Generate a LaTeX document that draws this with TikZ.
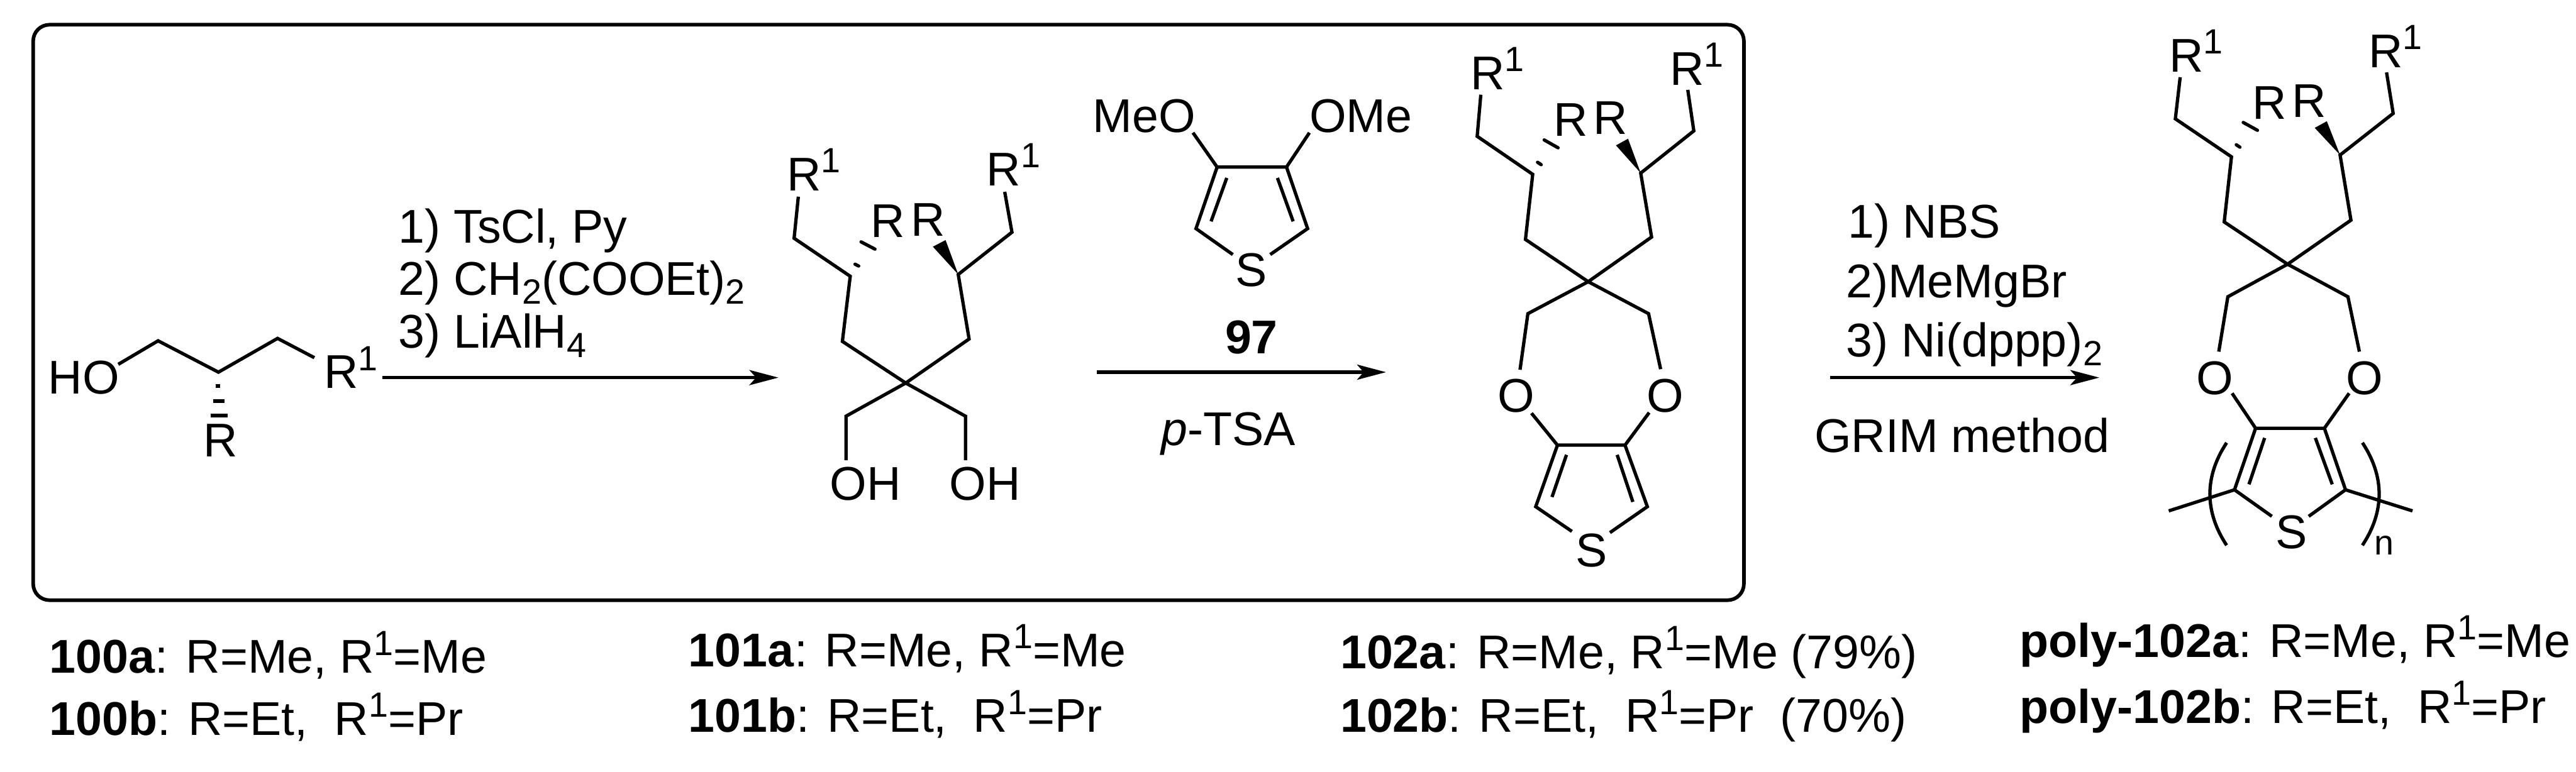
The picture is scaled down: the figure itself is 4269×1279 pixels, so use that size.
\documentclass[tikz,border=0pt]{standalone}
\usepackage{fontspec}
\setmainfont{Liberation Sans}
\usetikzlibrary{arrows.meta}
\newcommand{\Sup}[1]{\raisebox{30pt}{\fontsize{58}{60}\selectfont #1}}
\newcommand{\Sub}[1]{\raisebox{-15pt}{\fontsize{58}{60}\selectfont #1}}
\tikzset{
  txt/.style={inner sep=0pt,anchor=base west,font=\fontsize{78.5}{90}\selectfont},
  atom/.style={inner sep=0pt,anchor=base,font=\fontsize{78.5}{90}\selectfont},
  bond/.style={line width=5.5pt,line join=miter,line cap=butt},
  hash/.style={line width=5.5pt,line cap=round},
  wedge/.style={fill=black,draw=none},
  rxn/.style={line width=5.5pt,-{Stealth[length=48pt,width=25pt,inset=11pt]}},
  frame/.style={draw,line width=6pt,rounded corners=27pt}
}
\newcommand{\Pts}[1]{\foreach \n/\px/\py in {#1} {\coordinate (\n) at (\px,\py);}}
\begin{document}
\begin{tikzpicture}[x=1pt,y=-1pt]
\useasboundingbox (0,0) rectangle (4269,1279);
\fill[white] (0,0) rectangle (4269,1279);
% frame
\coordinate (fa) at (55,41);
\coordinate (fb) at (2890,995);
\draw[frame] (fa) rectangle (fb);

% ---------- 100
\Pts{a1/196/604,a2/262/565,a3/362/617,a4/460/561,a5/521/593}
\draw[bond] (a1)--(a2)--(a3)--(a4)--(a5);
\Pts{ah1l/358/640,ah1r/365/640,ah2l/353/665,ah2r/372/665,ah3l/349/689,ah3r/377/689}
\draw[line width=5.5pt] (ah1l)--(ah1r) (ah2l)--(ah2r) (ah3l)--(ah3r);
\node[txt] (hoa) at (80,653) {HO};
\node[atom] (ra) at (366,757) {R};
\node[txt] (roa) at (537,644) {R\Sup{1}};

% arrow 1
\coordinate (s1) at (634,626);
\coordinate (e1) at (1290,626);
\draw[rxn] (s1)--(e1);
\node[txt] (c1a) at (660,403) {1) TsCl, Py};
\node[txt] (c1b) at (660,489) {2) CH\Sub{2}(COOEt)\Sub{2}};
\node[txt] (c1c) at (660,577) {3) LiAlH\Sub{4}};

% ---------- 101
\Pts{b0/1501/635,bl1/1323/326,bl2/1316/395,bl3/1409/458,bl4/1396/566,br1/1665/318,br2/1677/385,br3/1588/455,br4/1606/562,bc1/1402/690,bo1/1402/763,bc2/1600/690,bo2/1600/763}
\draw[bond] (bl1)--(bl2)--(bl3)--(bl4)--(b0)--(br4)--(br3)--(br2)--(br1);
\draw[bond] (b0)--(bc1)--(bo1) (b0)--(bc2)--(bo2);
\Pts{bw1/1546/409,bw2/1567/398,bd1/1417/438,bd2/1423/441,bd3/1427/401,bd4/1450/413}
\fill[wedge] (br3)--(bw1)--(bw2)--cycle;
\draw[hash] (bd1)--(bd2) (bd3)--(bd4);
\node[txt] (rb1) at (1304,316) {R\Sup{1}};
\node[txt] (rb2) at (1635,308) {R\Sup{1}};
\node[txt] (rb3) at (1443,393) {R};
\node[txt] (rb4) at (1509,391) {R};
\node[txt] (ohb1) at (1375,829) {OH};
\node[txt] (ohb2) at (1573,829) {OH};

% ---------- 97
\Pts{ta/2017/277,tb/2132/277,tc/1982/379,td/2043/422,te/2105/422,tf/2167/379,tg/1977/220,th/2170/220,ti/2033/295,tj/2007/367,tk/2117/295,tl/2143/367}
\draw[bond] (tg)--(ta)--(tb)--(th);
\draw[bond] (te)--(tf)--(tb) (ta)--(tc)--(td);
\draw[bond] (ti)--(tj) (tk)--(tl);
\node[txt] (meo) at (1811,219) {MeO};
\node[txt] (ome) at (2170,219) {OMe};
\node[atom] (st) at (2074,475) {S};
\node[atom,font=\fontsize{78.5}{90}\selectfont\bfseries] (n97) at (2074,586) {97};

% arrow 2
\coordinate (s2) at (1818,617);
\coordinate (e2) at (2297,617);
\draw[rxn] (s2)--(e2);
\node[txt] (ptsa) at (1924,738) {\textit{p}-TSA};

% ---------- 102
\Pts{c0/2632/467,cl1/2454/157,cl2/2448/226,cl3/2540/289,cl4/2528/397,cr1/2797/149,cr2/2807/217,cr3/2719/287,cr4/2737/393,cm1/2532/520,cm2/2519/613,cm3/2732/520,cm4/2752/612,cn1/2538/685,cn2/2581/738,cn3/2693/738,cn4/2733/684,cs1/2545/840,cs2/2605/881,cs3/2668/883,cs4/2730/840,ci1/2596/754,ci2/2572/824,ci3/2680/754,ci4/2706/832}
\draw[bond] (cl1)--(cl2)--(cl3)--(cl4)--(c0)--(cr4)--(cr3)--(cr2)--(cr1);
\draw[bond] (c0)--(cm1)--(cm2) (c0)--(cm3)--(cm4);
\draw[bond] (cn1)--(cn2)--(cn3)--(cn4);
\draw[bond] (cs2)--(cs1)--(cn2) (cs3)--(cs4)--(cn3);
\draw[bond] (ci1)--(ci2) (ci3)--(ci4);
\Pts{cw1/2678/241,cw2/2698/230,cd1/2548/269,cd2/2554/273,cd3/2559/232,cd4/2582/245}
\fill[wedge] (cr3)--(cw1)--(cw2)--cycle;
\draw[hash] (cd1)--(cd2) (cd3)--(cd4);
\node[txt] (rc1) at (2437,148) {R\Sup{1}};
\node[txt] (rc2) at (2767,141) {R\Sup{1}};
\node[txt] (rc3) at (2575,226) {R};
\node[txt] (rc4) at (2640,223) {R};
\node[atom] (oc1) at (2513,683) {O};
\node[atom] (oc2) at (2760,683) {O};
\node[atom] (sc) at (2637,940) {S};

% arrow 3
\coordinate (s3) at (3033,626);
\coordinate (e3) at (3479,626);
\draw[rxn] (s3)--(e3);
\node[txt] (d1a) at (3062,394) {1) NBS};
\node[txt] (d1b) at (3059,493) {2)MeMgBr};
\node[txt] (d1c) at (3059,591) {3) Ni(dppp)\Sub{2}};
\node[txt] (d1d) at (3007,750) {GRIM method};

% ---------- poly
\Pts{d0/3791/438,dl1/3613/128,dl2/3605/197,dl3/3698/260,dl4/3686/368,dr1/3955/120,dr2/3966/188,dr3/3878/257,dr4/3896/365,dm1/3692/492,dm2/3677/583,dm3/3891/492,dm4/3910/583,dn1/3699/652,dn2/3738/710,dn3/3852/710,dn4/3893/652,ds1/3703/812,ds2/3765/856,ds3/3826/856,ds4/3887/812,di1/3753/726,di2/3727/803,di3/3837/726,di4/3865/803,dt1/3594/847,dt2/3998/847}
\draw[bond] (dl1)--(dl2)--(dl3)--(dl4)--(d0)--(dr4)--(dr3)--(dr2)--(dr1);
\draw[bond] (d0)--(dm1)--(dm2) (d0)--(dm3)--(dm4);
\draw[bond] (dn1)--(dn2)--(dn3)--(dn4);
\draw[bond] (ds2)--(ds1)--(dn2) (ds3)--(ds4)--(dn3);
\draw[bond] (di1)--(di2) (di3)--(di4);
\draw[bond] (ds1)--(dt1) (ds4)--(dt2);
\Pts{dw1/3836/212,dw2/3856/201,dd1/3706/240,dd2/3712/244,dd3/3717.5/203,dd4/3741/216}
\fill[wedge] (dr3)--(dw1)--(dw2)--cycle;
\draw[hash] (dd1)--(dd2) (dd3)--(dd4);
\Pts{pa/3690/734,pb/3690/904,pc/3915/734,pd/3915/904,pe/3653/790,pf/3653/848,pg/3952/790,ph/3952/848}
\draw[bond] (pa) .. controls (pe) and (pf) .. (pb);
\draw[bond] (pc) .. controls (pg) and (ph) .. (pd);
\node[txt] (rd1) at (3595,119) {R\Sup{1}};
\node[txt] (rd2) at (3925,112) {R\Sup{1}};
\node[txt] (rd3) at (3733,197) {R};
\node[txt] (rd4) at (3798,194) {R};
\node[atom] (od1) at (3670,654) {O};
\node[atom] (od2) at (3919,654) {O};
\node[atom] (sd) at (3797,909) {S};
\node[txt,font=\fontsize{58}{60}\selectfont] (nd) at (3935,920) {n};

% ---------- labels
\node[txt] (la1) at (82,1116) {\textbf{100a}: R=Me, R\Sup{1}=Me};
\node[txt] (la2) at (82,1219) {\textbf{100b}: R=Et,\ \ R\Sup{1}=Pr};
\node[txt] (lb1) at (1141,1105) {\textbf{101a}: R=Me, R\Sup{1}=Me};
\node[txt] (lb2) at (1141,1214) {\textbf{101b}: R=Et,\ \ R\Sup{1}=Pr};
\node[txt] (lc1) at (2221,1108) {\textbf{102a}: R=Me, R\Sup{1}=Me (79\%)};
\node[txt] (lc2) at (2221,1214) {\textbf{102b}: R=Et,\ \ R\Sup{1}=Pr\ \ (70\%)};
\node[txt] (ld1) at (3347,1090) {\textbf{poly-102a}: R=Me, R\Sup{1}=Me};
\node[txt] (ld2) at (3347,1199) {\textbf{poly-102b}: R=Et,\ \ R\Sup{1}=Pr};
\end{tikzpicture}
\end{document}
